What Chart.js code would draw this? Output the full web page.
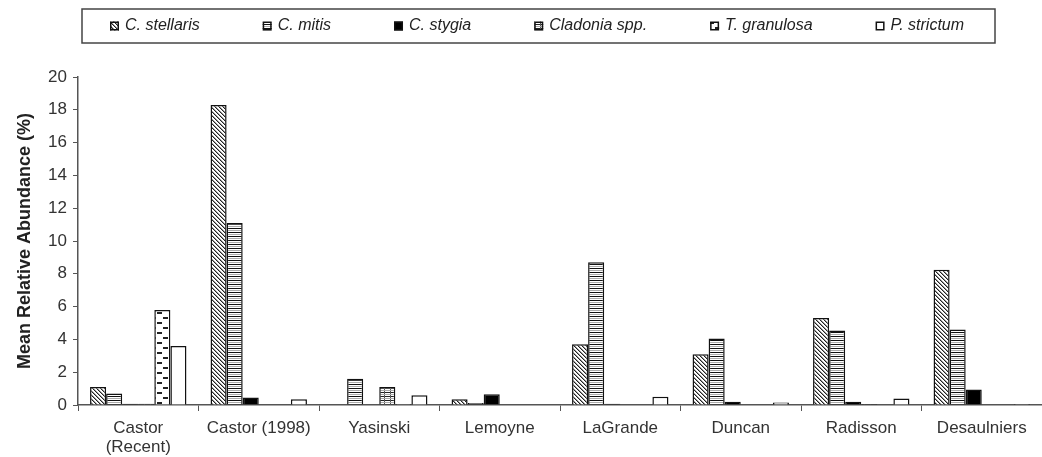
<!DOCTYPE html>
<html>
<head>
<meta charset="utf-8">
<script src="https://cdn.jsdelivr.net/npm/chart.js@4"></script>
<style>
  html, body { margin: 0; padding: 0; background: #fff; }
  #wrap { width: 1042px; height: 457px; position: relative; }
</style>
</head>
<body>
<div id="wrap"><canvas id="abundanceChart"></canvas></div>
<script>
// Sites (x categories)
const sites = [['Castor', '(Recent)'], 'Castor (1998)', 'Yasinski', 'Lemoyne', 'LaGrande', 'Duncan', 'Radisson', 'Desaulniers'];

// Mean relative abundance (%) per species
const stellaris = [1.1, 18.3, 0, 0.35, 3.7, 3.1, 5.3, 8.25];
const mitis     = [0.7, 11.1, 1.6, 0.12, 8.7, 4.05, 4.55, 4.6];
const stygia    = [0.08, 0.45, 0, 0.65, 0.08, 0.2, 0.2, 0.95];
const cladonia  = [0.08, 0, 1.1, 0, 0, 0, 0.06, 0];
const granulosa = [5.8, 0, 0.06, 0, 0, 0, 0, 0];
const strictum  = [3.6, 0.35, 0.6, 0, 0.5, 0.15, 0.4, 0.06];

const yTicks = [0, 2, 4, 6, 8, 10, 12, 14, 16, 18, 20];

const FONT = '"Liberation Sans", Arial, sans-serif';

// Fill patterns for the bars
function makePattern(w, h, draw) {
    const c = document.createElement('canvas');
    c.width = w; c.height = h;
    const g = c.getContext('2d');
    g.fillStyle = '#fff';
    g.fillRect(0, 0, w, h);
    draw(g);
    return g.createPattern(c, 'repeat');
}

const hatchPattern = makePattern(4, 4, g => {
    for (let i = 0; i < 4; i++) {
        g.fillStyle = '#222';
        g.fillRect(i, i, 1, 1);
        g.fillStyle = '#999';
        g.fillRect((i + 1) % 4, i, 1, 1);
    }
});

const stripePattern = makePattern(4, 4, g => {
    g.fillStyle = '#111';
    g.fillRect(0, 0, 4, 1);
    g.fillStyle = '#aaa';
    g.fillRect(0, 2, 4, 1);
});

const gridPattern = makePattern(6, 4, g => {
    g.fillStyle = '#222';
    g.fillRect(0, 0, 6, 1);
    g.fillStyle = '#555';
    g.fillRect(0, 0, 1, 4);
    g.fillStyle = '#aaa';
    g.fillRect(0, 2, 6, 1);
});

const dashPattern = makePattern(12, 10, g => {
    g.fillStyle = '#222';
    g.fillRect(1, 2, 5, 2);
    g.fillRect(7, 7, 5, 2);
});

const species = [
    { label: 'C. stellaris',   data: stellaris, fill: hatchPattern },
    { label: 'C. mitis',       data: mitis,     fill: stripePattern },
    { label: 'C. stygia',      data: stygia,    fill: '#000' },
    { label: 'Cladonia spp.',  data: cladonia,  fill: gridPattern },
    { label: 'T. granulosa',   data: granulosa, fill: dashPattern },
    { label: 'P. strictum',    data: strictum,  fill: '#fff' }
];

// Boxed legend drawn at the top
const boxLegend = {
    id: 'boxLegend',
    afterDraw(chart, args, opts) {
        const ctx = chart.ctx;
        ctx.save();
        ctx.strokeStyle = '#444';
        ctx.lineWidth = 1.5;
        ctx.strokeRect(opts.left, opts.top, opts.width, opts.height);
        ctx.font = 'italic 16px ' + FONT;
        ctx.textBaseline = 'middle';
        const cy = opts.top + opts.height / 2;
        let x = opts.startX;
        chart.data.datasets.forEach(ds => {
            ctx.fillStyle = ds.backgroundColor;
            ctx.fillRect(x, cy - 4.5, 9, 9);
            ctx.strokeStyle = '#111';
            ctx.lineWidth = 1.5;
            ctx.strokeRect(x + 0.75, cy - 3.75, 7.5, 7.5);
            ctx.fillStyle = '#222';
            ctx.fillText(ds.label, x + 15, cy);
            x += 15 + ctx.measureText(ds.label).width + opts.gap;
        });
        ctx.restore();
    }
};

const ctx = document.getElementById('abundanceChart');

new Chart(ctx, {
    type: 'bar',
    data: {
        labels: sites,
        datasets: species.map(s => ({
            label: s.label,
            data: s.data,
            backgroundColor: s.fill,
            borderColor: '#111',
            borderWidth: 1.5,
            categoryPercentage: 0.8,
            barPercentage: 1.0
        }))
    },
    options: {
        responsive: true,
        maintainAspectRatio: false,
        animation: false,
        layout: {
            padding: { top: 77, left: 0, right: 0, bottom: 0 }
        },
        plugins: {
            legend: { display: false },
            tooltip: { enabled: false },
            boxLegend: { left: 82, top: 9, width: 913, height: 34, startX: 110, gap: 63 }
        },
        scales: {
            x: {
                afterFit: scale => { scale.height = 52; },
                grid: {
                    drawOnChartArea: false,
                    drawTicks: true,
                    tickLength: 6,
                    color: '#555',
                    offset: true
                },
                border: { display: true, color: '#555', width: 1.5 },
                ticks: {
                    color: '#333',
                    padding: 8,
                    maxRotation: 0,
                    autoSkip: false,
                    font: { family: FONT, size: 17, lineHeight: 1.1 }
                }
            },
            y: {
                min: 0,
                max: 20,
                afterFit: scale => { scale.width = 78; },
                afterBuildTicks: scale => { scale.ticks = yTicks.map(v => ({ value: v })); },
                grid: {
                    drawOnChartArea: false,
                    drawTicks: true,
                    tickLength: 5,
                    color: '#555'
                },
                border: { display: true, color: '#555', width: 1.5 },
                ticks: {
                    color: '#333',
                    padding: 6,
                    font: { family: FONT, size: 17 }
                },
                title: {
                    display: true,
                    text: 'Mean Relative Abundance (%)',
                    color: '#222',
                    padding: { top: 14, bottom: 4 },
                    font: { family: FONT, size: 18, weight: 'bold' }
                }
            }
        }
    },
    plugins: [boxLegend]
});
</script>
</body>
</html>
